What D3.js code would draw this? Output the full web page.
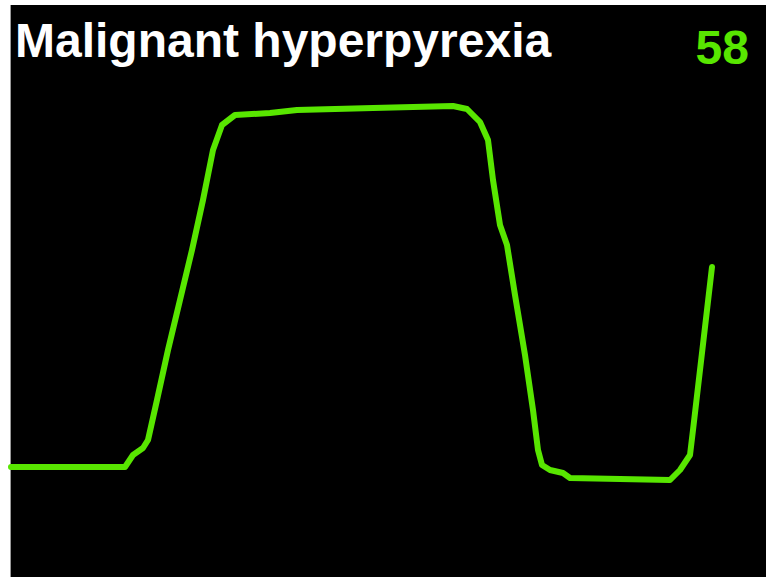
<!DOCTYPE html>
<html>
<head>
<meta charset="utf-8">
<script src="https://cdn.jsdelivr.net/npm/d3@7"></script>
<style>
  html, body { margin: 0; padding: 0; background: #fff; }
  .trace { fill: none; stroke: #58e600; stroke-width: 6; stroke-linejoin: round; stroke-linecap: round; }
</style>
</head>
<body>
<div class="graph"></div>
<script>
// waveform samples (time index, CO2 level)
var times = [0, 22.8, 24.4, 26.4, 27.4, 29.2, 31.4, 33.8, 36.2, 38.4, 40.4, 42.2, 44.8, 51.8, 57.2, 72.4,
  88.4, 91.2, 93.8, 95.4, 96.4, 97.8, 99.2, 100.8, 102.8, 104.4, 105.4, 106.2, 107.8, 110.4, 111.8,
  131.8, 133.8, 135.8, 136.4, 137.8, 139.2, 140.2];
var levels = [2.6, 2.6, 5, 6.4, 8, 16, 26, 36, 46, 56, 66, 71, 73, 73.4, 74, 74.4,
  74.8, 74.2, 71.6, 68, 60, 51, 47, 37, 25, 14, 6, 3, 2, 1.4, 0.4,
  0, 2, 5, 10, 22, 34, 42.6];
var title = "Malignant hyperpyrexia";
var reading = "58";

// set the dimensions
var width = 766, height = 577;

// set the ranges
var x = d3.scaleLinear().domain([0, 149]).range([11, 756]);
var y = d3.scaleLinear().domain([0, 76]).range([480, 100]);

var data = times.map(function(t, i) { return {t: t, v: levels[i]}; });

var valueline = d3.line()
    .x(function(d) { return x(d.t); })
    .y(function(d) { return y(d.v); });

var svg = d3.select(".graph").append("svg")
    .attr("width", width)
    .attr("height", height)
    .style("display", "block");

// monitor screen
svg.append("rect")
    .attr("x", 11)
    .attr("y", 5)
    .attr("width", width - 11)
    .attr("height", height - 5)
    .attr("fill", "#000");

svg.append("line")
    .attr("x1", 10.5).attr("x2", 10.5)
    .attr("y1", 5).attr("y2", height)
    .attr("stroke", "#999").attr("stroke-width", 1);

// Add the valueline path.
svg.append("path")
    .data([data])
    .attr("class", "trace")
    .attr("d", valueline);

// labels
svg.append("text")
    .attr("x", 15)
    .attr("y", 57)
    .attr("fill", "#fff")
    .style("font-family", "'Liberation Sans', Arial, sans-serif")
    .style("font-weight", "bold")
    .style("font-size", "48px")
    .text(title);

svg.append("text")
    .attr("x", 749)
    .attr("y", 64)
    .attr("text-anchor", "end")
    .attr("fill", "#58e600")
    .style("font-family", "'Liberation Sans', Arial, sans-serif")
    .style("font-weight", "bold")
    .style("font-size", "48px")
    .text(reading);
</script>
</body>
</html>
